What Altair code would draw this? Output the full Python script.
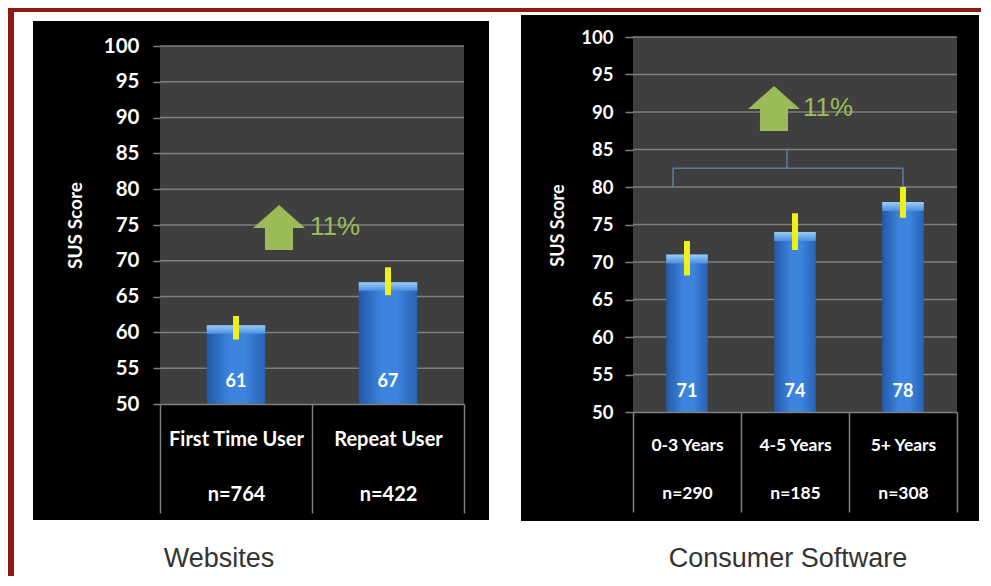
import altair as alt
import pandas as pd

# ---------------- data ----------------
web_cats = ["First Time User", "Repeat User"]
web_n = ["n=764", "n=422"]
web_scores = [61, 67]
web_lo = [59.0, 65.2]
web_hi = [62.3, 69.1]

sw_cats = ["0-3 Years", "4-5 Years", "5+ Years"]
sw_n = ["n=290", "n=185", "n=308"]
sw_scores = [71, 74, 78]
sw_lo = [68.2, 71.6, 75.9]
sw_hi = [72.8, 76.5, 80.0]

y_ticks = [50, 55, 60, 65, 70, 75, 80, 85, 90, 95, 100]
grid_vals = [55, 60, 65, 70, 75, 80, 85, 90, 95, 100]
increase_label = "11%"
panel_titles = ["Websites", "Consumer Software"]
y_title = "SUS Score"

# bracket over consumer software bars (score units)
bracket_low = [80.0, 80.0]
bracket_mid = 82.5
bracket_top = 85.0

# ---------------- styles ----------------
FONT = "Lato"
GRID = "#7f7f7f"
PLOT_BG = "#3f3f3f"
GREEN = "#9bbb59"
YELLOW = "#eef01e"
RED = "#8c1a11"
BR = "#5f7ba3"
ARROW = "M0,-0.865L1,0.02L0.54,0.02L0.54,0.865L-0.54,0.865L-0.54,0.02L-1,0.02Z"

bar_fill = alt.Gradient(
    gradient="linear",
    stops=[
        alt.GradientStop(color="#2259a8", offset=0),
        alt.GradientStop(color="#3d84de", offset=0.4),
        alt.GradientStop(color="#3d84de", offset=0.65),
        alt.GradientStop(color="#2862b4", offset=1),
    ],
    x1=0, x2=1, y1=0, y2=0,
)
cap_fill = alt.Gradient(
    gradient="linear",
    stops=[
        alt.GradientStop(color="#9ccdf5", offset=0),
        alt.GradientStop(color="#4a8fe0", offset=1),
    ],
    x1=0, x2=0, y1=0, y2=1,
)

one = pd.DataFrame({"d": [0]})


def panel(cats, ns, scores, lo, hi, W, H, ymax, tick_size, label_pad, line_h,
          xlab_size, ylab_size, ylab_pad, ytick, title_x, title_y, title_size,
          val_dy, box, arrow_xy, pct_xy, title_xy, title_text,
          extra_before=None, bracket=None):
    df = pd.DataFrame({
        "cat": [c + "|" + n for c, n in zip(cats, ns)],
        "score": scores,
        "lo": lo,
        "hi": hi,
        "cap": [s - 1.2 for s in scores],
    })
    xaxis = alt.Axis(
        title=None, labelAngle=0, labelExpr="split(datum.label, '|')",
        labelColor="white", labelFont=FONT, labelFontWeight="bold",
        labelFontSize=xlab_size, labelLineHeight=line_h,
        labelPadding=label_pad, labelBaseline="top",
        domainColor=GRID, domainWidth=1.5, tickColor=GRID, tickWidth=1.5,
        tickSize=tick_size, tickBand="extent", zindex=1,
    )
    xscale = alt.Scale(paddingInner=0, paddingOuter=0)
    yscale = alt.Scale(domain=[50, ymax], nice=False, zero=False)
    yaxis = alt.Axis(
        title=y_title, values=y_ticks, grid=False, domain=False,
        tickColor=GRID, tickWidth=1.5, tickSize=ytick, labelOverlap=False,
        labelColor="white", labelFont=FONT, labelFontWeight="bold",
        labelFontSize=ylab_size, labelPadding=ylab_pad,
        titleColor="white", titleFont=FONT, titleFontWeight="bold",
        titleFontSize=title_size, titleX=title_x, titleY=title_y,
        titleBaseline="middle", zindex=1,
    )

    def X(field):
        return alt.X(field, sort=None, scale=xscale, axis=xaxis)

    def Y(field=None, datum=None):
        if datum is not None:
            return alt.Y(datum=datum, scale=yscale, axis=yaxis)
        return alt.Y(field, scale=yscale, axis=yaxis)

    layers = []
    if extra_before is not None:
        layers += extra_before
    # black panel
    layers.append(alt.Chart(one).mark_rect(color="black").encode(
        x=alt.value(box[0]), x2=alt.value(box[1]),
        y=alt.value(box[2]), y2=alt.value(box[3])))
    # plot background
    layers.append(alt.Chart(one).mark_rect(color=PLOT_BG).encode(
        x=alt.value(0), x2=alt.value(W), y=Y(datum=50), y2=alt.datum(100)))
    # gridlines
    layers.append(alt.Chart(pd.DataFrame({"g": grid_vals})).mark_rule(
        color=GRID, strokeWidth=1.5).encode(
        x=alt.value(0), x2=alt.value(W), y=Y("g:Q")))
    base = alt.Chart(df)
    layers.append(base.mark_bar(fill=bar_fill, width=alt.RelativeBandSize(0.385))
                  .encode(x=X("cat:N"), y=Y("score:Q"), y2=alt.datum(50)))
    layers.append(base.mark_bar(fill=cap_fill, width=alt.RelativeBandSize(0.385))
                  .encode(x=X("cat:N"), y=Y("score:Q"), y2="cap:Q"))
    layers.append(base.mark_rule(color=YELLOW, strokeWidth=6)
                  .encode(x=X("cat:N"), y=Y("lo:Q"), y2="hi:Q"))
    layers.append(base.mark_text(color="white", font=FONT, fontWeight="bold",
                                 fontSize=18, dy=val_dy, baseline="middle")
                  .encode(x=X("cat:N"), y=Y(datum=50), text="score:Q"))
    # bracket segments: (x, x2 or None, y, y2 or None)
    if bracket is not None:
        for bx, bx2, by, by2 in bracket:
            enc = dict(x=alt.value(bx), y=Y(datum=by))
            if bx2 is not None:
                enc["x2"] = alt.value(bx2)
            if by2 is not None:
                enc["y2"] = alt.datum(by2)
            layers.append(alt.Chart(one).mark_rule(color=BR, strokeWidth=1.5)
                          .encode(**enc))
    # arrow + percentage
    layers.append(alt.Chart(one).mark_point(
        shape=ARROW, filled=True, size=2704, color=GREEN, opacity=1,
        strokeWidth=0).encode(x=alt.value(arrow_xy[0]), y=alt.value(arrow_xy[1])))
    layers.append(alt.Chart(one).mark_text(
        text=increase_label, color=GREEN, font="Liberation Sans", fontSize=26,
        align="left", baseline="middle").encode(
        x=alt.value(pct_xy[0]), y=alt.value(pct_xy[1])))
    # panel caption
    layers.append(alt.Chart(one).mark_text(
        text=title_text, color="#333333", font="Liberation Sans", fontSize=27,
        align="center", baseline="alphabetic").encode(
        x=alt.value(title_xy[0]), y=alt.value(title_xy[1])))
    return alt.layer(*layers).properties(width=W, height=H)


# red page border (decoration)
red_border = [
    alt.Chart(one).mark_rect(color=RED).encode(
        x=alt.value(-152), x2=alt.value(-146), y=alt.value(-29), y2=alt.value(539)),
    alt.Chart(one).mark_rect(color=RED).encode(
        x=alt.value(-152), x2=alt.value(821), y=alt.value(-29), y2=alt.value(-25)),
]

left = panel(
    web_cats, web_n, web_scores, web_lo, web_hi,
    W=304, H=367, ymax=100 + 9 / 7.16, tick_size=109, label_pad=-84, line_h=55,
    xlab_size=20, ylab_size=20.5, ylab_pad=14, ytick=7, title_x=-85, title_y=188,
    title_size=19, val_dy=-22, box=(-127, 329, -16, 483), arrow_xy=(119, 190.5),
    pct_xy=(150, 190), title_xy=(59, 530), title_text=panel_titles[0],
    extra_before=red_border,
)

bracket_segments = [
    (40, None, bracket_low[0], bracket_mid),
    (270, None, bracket_low[1], bracket_mid),
    (40, 270, bracket_mid, None),
    (154, None, bracket_mid, bracket_top),
]

right = panel(
    sw_cats, sw_n, sw_scores, sw_lo, sw_hi,
    W=324, H=375, ymax=100, tick_size=100, label_pad=-76, line_h=48,
    xlab_size=17.5, ylab_size=18.5, ylab_pad=12, ytick=8, title_x=-75, title_y=188,
    title_size=18, val_dy=-20, box=(-112, 346, -22, 484), arrow_xy=(141, 71.5),
    pct_xy=(170, 71), title_xy=(155, 530), title_text=panel_titles[1],
    bracket=bracket_segments,
)

chart = alt.hconcat(left, right, spacing=169, bounds="flush").properties(
    padding=0, background="white"
).configure_view(stroke=None).configure_axisY(labelOverlap=False)

chart.save("out.html", embed_options={"renderer": "svg", "actions": False})
